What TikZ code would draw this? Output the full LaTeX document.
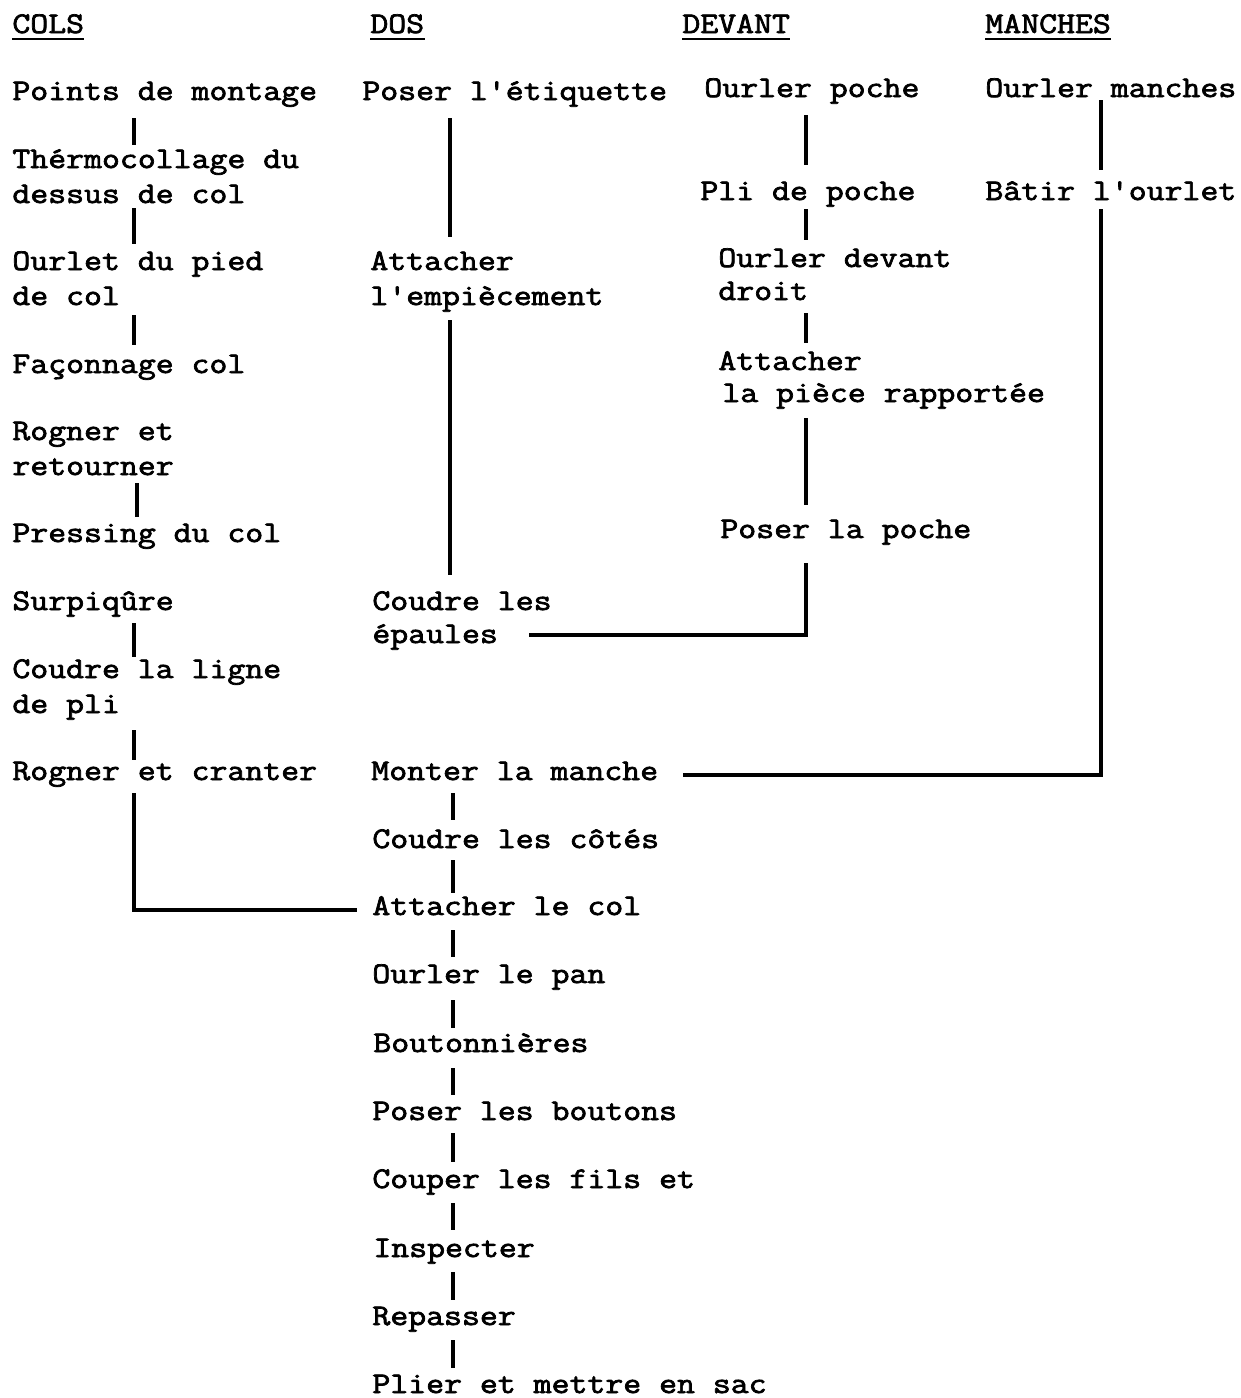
\documentclass[tikz,border=0pt]{standalone}
\usepackage{fontspec}
\newfontfamily\tw{Latin Modern Mono}[FakeStretch=1.16,FakeBold=2.4]
\usetikzlibrary{calc}
\begin{document}
\begin{tikzpicture}[x=0.5pt,y=-0.5pt,
  txt/.style={anchor=base west,inner sep=0pt,text height=9pt,text depth=4pt,font=\tw\fontsize{15pt}{17pt}\selectfont},
  conn/.style={line width=1.9pt,line cap=butt},
  uline/.style={line width=1.1pt}]
\useasboundingbox (0,0) rectangle (1241,1398);
% column x coordinates
\coordinate (xa) at (134,0);
\coordinate (xa2) at (137,0);
\coordinate (xb) at (450,0);
\coordinate (xb2) at (453,0);
\coordinate (xv) at (806,0);
\coordinate (xm) at (1101,0);
% headings
\node[txt] (h1) at (12,33) {COLS};
\node[txt] (h2) at (370,33) {DOS};
\node[txt] (h3) at (682,33) {DEVANT};
\node[txt] (h4) at (985,33) {MANCHES};
\foreach \h in {h1,h2,h3,h4}{
  \draw[uline] ([yshift=-3pt]\h.base west) -- ([yshift=-3pt]\h.base east);
}
% COLS
\node[txt] (c1) at (12,100) {Points de montage};
\node[txt] (c2a) at (12,168) {Thérmocollage du};
\node[txt] (c2b) at (12,203) {dessus de col};
\node[txt] (c3a) at (12,270) {Ourlet du pied};
\node[txt] (c3b) at (12,305) {de col};
\node[txt] (c4) at (12,373) {Façonnage col};
\node[txt] (c5a) at (12,440) {Rogner et};
\node[txt] (c5b) at (12,475) {retourner};
\node[txt] (c6) at (12,542) {Pressing du col};
\node[txt] (c7) at (12,610) {Surpiqûre};
\node[txt] (c8a) at (12,678) {Coudre la ligne};
\node[txt] (c8b) at (12,713) {de pli};
\node[txt] (c9) at (12,780) {Rogner et cranter};
% DOS
\node[txt] (d1) at (362,100) {Poser l'étiquette};
\node[txt] (d2a) at (370,270) {Attacher};
\node[txt] (d2b) at (370,305) {l'empiècement};
\node[txt] (d3a) at (372,610) {Coudre les};
\node[txt] (d3b) at (372,643) {épaules};
\node[txt] (d4) at (371,780) {Monter la manche};
\node[txt] (d5) at (372,848) {Coudre les côtés};
\node[txt] (d6) at (372,915) {Attacher le col};
\node[txt] (d7) at (372,983) {Ourler le pan};
\node[txt] (d8) at (373,1052) {Boutonnières};
\node[txt] (d9) at (372,1120) {Poser les boutons};
\node[txt] (d10) at (372,1188) {Couper les fils et};
\node[txt] (d11) at (373,1257) {Inspecter};
\node[txt] (d12) at (372,1325) {Repasser};
\node[txt] (d13) at (372,1393) {Plier et mettre en sac};
% DEVANT
\node[txt] (v1) at (704,97) {Ourler poche};
\node[txt] (v2) at (700,200) {Pli de poche};
\node[txt] (v3a) at (718,267) {Ourler devant};
\node[txt] (v3b) at (718,300) {droit};
\node[txt] (v4a) at (718,370) {Attacher};
\node[txt] (v4b) at (722,402) {la pièce rapportée};
\node[txt] (v5) at (720,538) {Poser la poche};
% MANCHES
\node[txt] (m1) at (985,97) {Ourler manches};
\node[txt] (m2) at (985,200) {Bâtir l'ourlet};
% COLS connectors
\draw[conn,shorten <=5pt,shorten >=2.5pt] (c1.south -| xa) -- (c2a.north -| xa);
\draw[conn,shorten <=-1.5pt,shorten >=4pt] (c2b.south -| xa) -- (c3a.north -| xa);
\draw[conn,shorten <=1pt,shorten >=5pt] (c3b.south -| xa) -- (c4.north -| xa);
\draw[conn,shorten <=0pt,shorten >=3.5pt] (c5b.south -| xa2) -- (c6.north -| xa2);
\draw[conn,shorten <=2.5pt,shorten >=1.5pt] (c7.south -| xa) -- (c8a.north -| xa);
\draw[conn,shorten <=4.5pt,shorten >=1pt] (c8b.south -| xa) -- (c9.north -| xa);
\draw[conn,shorten <=2.5pt,shorten >=7.5pt] (c9.south -| xa) |- (d6.west);
% DOS connectors
\draw[conn,shorten <=5pt,shorten >=7.5pt] (d1.south -| xb) -- (d2a.north -| xb);
\draw[conn,shorten <=3.5pt,shorten >=8.5pt] (d2b.south -| xb) -- (d3a.north -| xb);
\draw[conn,shorten <=2.5pt,shorten >=5pt] (d4.south -| xb2) -- (d5.north -| xb2);
\draw[conn,shorten <=2pt,shorten >=2pt] (d5.south -| xb2) -- (d6.north -| xb2);
\draw[conn,shorten <=3.5pt,shorten >=4pt] (d6.south -| xb2) -- (d7.north -| xb2);
\draw[conn,shorten <=4.5pt,shorten >=3pt] (d7.south -| xb2) -- (d8.north -| xb2);
\draw[conn,shorten <=4pt,shorten >=3.5pt] (d8.south -| xb2) -- (d9.north -| xb2);
\draw[conn,shorten <=2.5pt,shorten >=4pt] (d9.south -| xb2) -- (d10.north -| xb2);
\draw[conn,shorten <=3.5pt,shorten >=4.5pt] (d10.south -| xb2) -- (d11.north -| xb2);
\draw[conn,shorten <=3.5pt,shorten >=3.5pt] (d11.south -| xb2) -- (d12.north -| xb2);
\draw[conn,shorten <=3.5pt,shorten >=3.5pt] (d12.south -| xb2) -- (d13.north -| xb2);
% DEVANT connectors
\draw[conn,shorten <=5pt,shorten >=8.5pt] (v1.south -| xv) -- (v2.north -| xv);
\draw[conn,shorten <=0.5pt,shorten >=4.5pt] (v2.south -| xv) -- (v3a.north -| xv);
\draw[conn,shorten <=2.5pt,shorten >=4.5pt] (v3b.south -| xv) -- (v4a.north -| xv);
\draw[conn,shorten <=4pt,shorten >=7.5pt] (v4b.south -| xv) -- (v5.north -| xv);
\draw[conn,shorten <=8.5pt,shorten >=15.5pt] (v5.south -| xv) |- ([yshift=1.5pt]d3b.east);
% MANCHES connectors
\draw[conn,shorten <=-2.5pt,shorten >=6pt] (m1.south -| xm) -- (m2.north -| xm);
\draw[conn,shorten <=0.5pt,shorten >=12pt] (m2.south -| xm) |- (d4.east);
\end{tikzpicture}
\end{document}
